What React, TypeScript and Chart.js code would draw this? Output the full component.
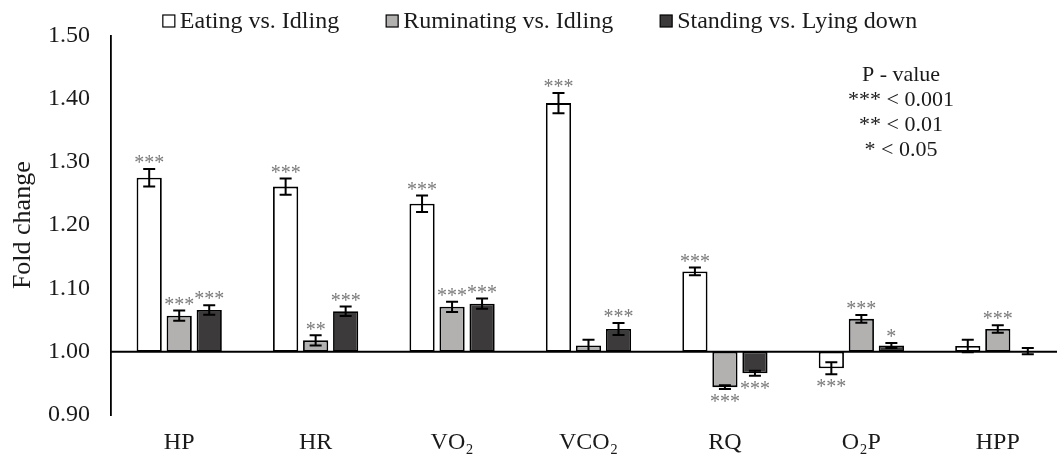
import React, { useEffect, useRef } from "react";
import { Chart, registerables } from "chart.js";

Chart.register(...registerables);

const categories = ["HP", "HR", "VO₂", "VCO₂", "RQ", "O₂P", "HPP"];
const seriesNames = ["Eating vs. Idling", "Ruminating vs. Idling", "Standing vs. Lying down"];

const eating = [1.275, 1.261, 1.234, 1.393, 1.127, 0.974, 1.009];
const eatingErr = [0.014, 0.013, 0.013, 0.016, 0.006, 0.0095, 0.01];
const eatingStars = ["***", "***", "***", "***", "***", "***", ""];

const ruminating = [1.057, 1.018, 1.071, 1.01, 0.944, 1.052, 1.036];
const ruminatingErr = [0.008, 0.008, 0.008, 0.009, 0.003, 0.006, 0.006];
const ruminatingStars = ["***", "**", "***", "", "***", "***", "***"];

const standing = [1.066, 1.064, 1.076, 1.036, 0.966, 1.01, 1.001];
const standingErr = [0.0075, 0.0075, 0.008, 0.0095, 0.004, 0.004, 0.005];
const standingStars = ["***", "***", "***", "***", "***", "*", ""];

const yTicks = [0.9, 1.0, 1.1, 1.2, 1.3, 1.4, 1.5];
const pValueLines = ["P - value", "*** < 0.001", "** < 0.01", "* < 0.05"];

const fills = ["#ffffff", "#b3b0b0", "#3c3a3a"];
const errs = [eatingErr, ruminatingErr, standingErr];
const stars = [eatingStars, ruminatingStars, standingStars];

const SERIF = "'Liberation Serif', 'Times New Roman', serif";

const overlayPlugin = {
  id: "overlay",
  afterDatasetsDraw(chart: any) {
    const ctx = chart.ctx;
    const ys = chart.scales.y;
    const area = chart.chartArea;
    ctx.save();
    // axis line at 1.00
    const y1 = ys.getPixelForValue(1);
    ctx.strokeStyle = "#000";
    ctx.lineWidth = 1.8;
    ctx.beginPath();
    ctx.moveTo(area.left, y1);
    ctx.lineTo(area.right, y1);
    ctx.stroke();

    chart.data.datasets.forEach((ds: any, i: number) => {
      const meta = chart.getDatasetMeta(i);
      meta.data.forEach((bar: any, j: number) => {
        const v = ds.data[j];
        const e = errs[i][j];
        const x = bar.x;
        const yt = ys.getPixelForValue(v + e);
        const yb = ys.getPixelForValue(v - e);
        ctx.strokeStyle = "#000";
        ctx.lineWidth = 2;
        ctx.beginPath();
        ctx.moveTo(x, yt);
        ctx.lineTo(x, yb);
        ctx.moveTo(x - 6, yt);
        ctx.lineTo(x + 6, yt);
        ctx.moveTo(x - 6, yb);
        ctx.lineTo(x + 6, yb);
        ctx.stroke();
        const s = stars[i][j];
        if (s) {
          ctx.fillStyle = "#7a7a7a";
          ctx.font = `20px ${SERIF}`;
          ctx.textAlign = "center";
          ctx.textBaseline = "middle";
          if (v >= 1) ctx.fillText(s, x, yt - 5);
          else ctx.fillText(s, x, yb + 14);
        }
      });
    });

    // P-value note
    ctx.fillStyle = "#1a1a1a";
    ctx.font = `22px ${SERIF}`;
    ctx.textAlign = "center";
    ctx.textBaseline = "middle";
    pValueLines.forEach((t, k) => ctx.fillText(t, 901, 75 + k * 25));

    // legend
    ctx.font = `24px ${SERIF}`;
    const box = 12;
    const gapText = 5;
    const gapItem = 47;
    const widths = chart.data.datasets.map((d: any) => box + gapText + ctx.measureText(d.label).width);
    const total = widths.reduce((a: number, b: number) => a + b, 0) + gapItem * (widths.length - 1);
    let x = 540 - total / 2;
    const ly = 21;
    chart.data.datasets.forEach((d: any, i: number) => {
      ctx.fillStyle = fills[i];
      ctx.fillRect(x, ly - box / 2, box, box);
      ctx.strokeStyle = "#000";
      ctx.lineWidth = 1.2;
      ctx.strokeRect(x, ly - box / 2, box, box);
      ctx.fillStyle = "#1a1a1a";
      ctx.textAlign = "left";
      ctx.textBaseline = "middle";
      ctx.fillText(d.label, x + box + gapText, ly + 1);
      x += widths[i] + gapItem;
    });
    ctx.restore();
  },
};

export default function App() {
  const ref = useRef<HTMLCanvasElement | null>(null);
  useEffect(() => {
    if (!ref.current) return;
    const mk = (label: string, data: number[], i: number) => ({
      label,
      data,
      base: 1,
      backgroundColor: fills[i],
      borderColor: "#000",
      borderWidth: 1.8,
      borderSkipped: false,
      categoryPercentage: 0.66,
      barPercentage: 0.84,
    });
    const chart = new Chart(ref.current, {
      type: "bar",
      data: {
        labels: categories,
        datasets: [
          mk(seriesNames[0], eating, 0),
          mk(seriesNames[1], ruminating, 1),
          mk(seriesNames[2], standing, 2),
        ],
      },
      options: {
        animation: false,
        responsive: false,
        layout: { padding: { top: 33, right: 4, left: 0, bottom: 0 } },
        plugins: { legend: { display: false }, tooltip: { enabled: false } },
        scales: {
          x: {
            afterFit: (s: any) => {
              s.height = 41;
            },
            grid: { display: false, drawTicks: false },
            border: { display: false },
            ticks: {
              color: "#1a1a1a",
              font: { family: SERIF, size: 24 },
              padding: 13,
              maxRotation: 0,
              autoSkip: false,
            },
          },
          y: {
            min: 0.9,
            max: 1.5,
            afterFit: (s: any) => {
              s.width = 111;
            },
            afterBuildTicks: (s: any) => {
              s.ticks = yTicks.map((v) => ({ value: v }));
            },
            grid: { display: false, drawTicks: false },
            border: { display: true, color: "#000", width: 1.8 },
            ticks: {
              color: "#1a1a1a",
              font: { family: SERIF, size: 24 },
              padding: 21,
              callback: (v: any) => Number(v).toFixed(2),
            },
            title: {
              display: true,
              text: "Fold change",
              color: "#1a1a1a",
              font: { family: SERIF, size: 26 },
              padding: { top: 8, bottom: 0 },
            },
          },
        },
      },
      plugins: [overlayPlugin],
    });
    return () => chart.destroy();
  }, []);
  return (
    <div style={{ position: "absolute", left: 0, top: 0, width: 1057, height: 456, overflow: "hidden", background: "#fff" }}>
      <canvas ref={ref} width={1070} height={456} style={{ display: "block" }} />
    </div>
  );
}
